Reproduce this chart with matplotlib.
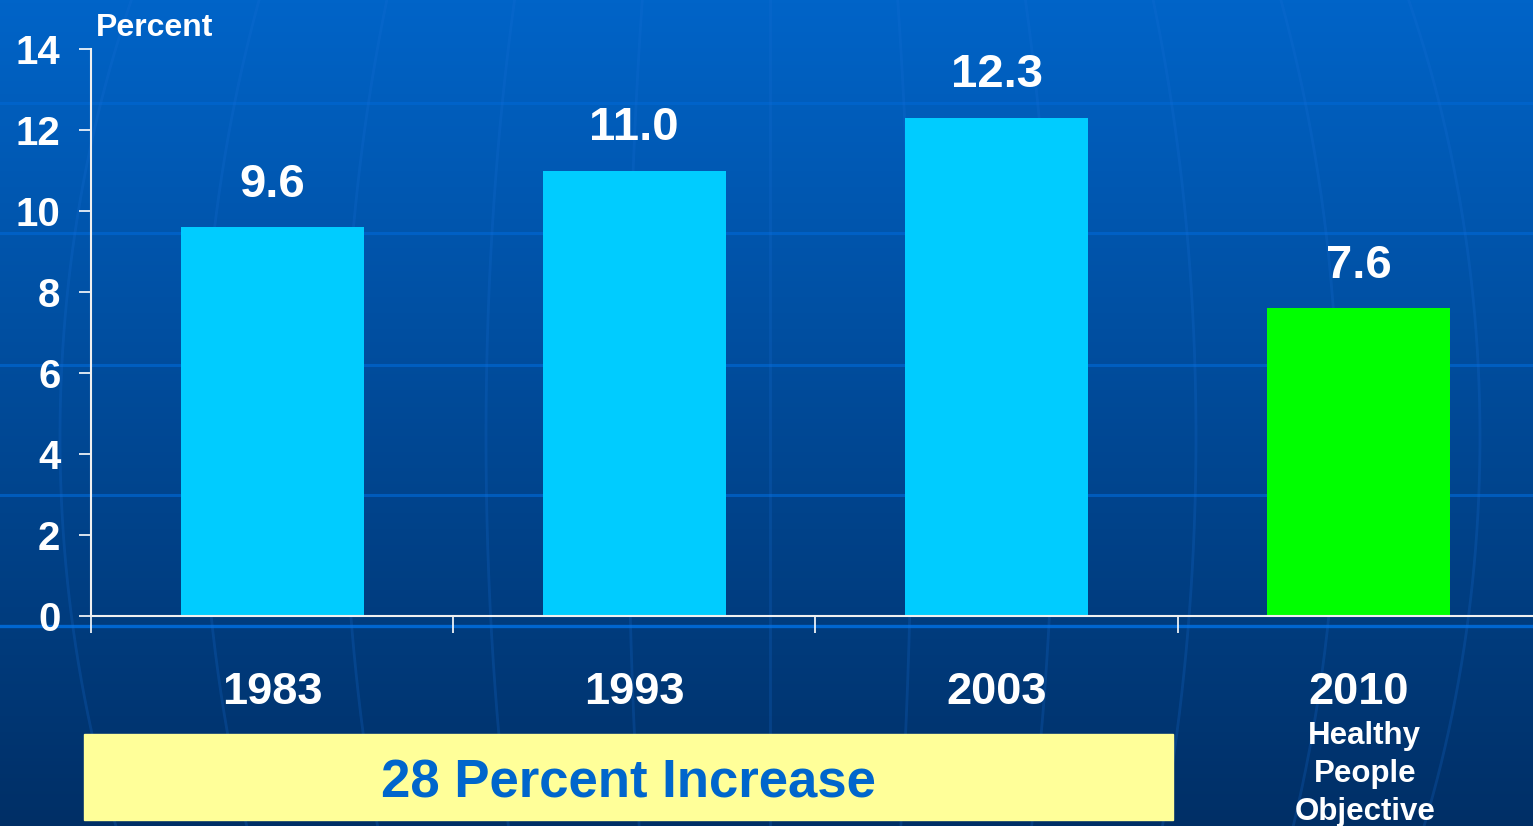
import numpy as np
import matplotlib.pyplot as plt
from matplotlib.patches import Rectangle

plt.rcParams['font.family'] = ['Liberation Sans', 'DejaVu Sans']
plt.rcParams['font.weight'] = 'bold'

# data
years = ['1983', '1993', '2003', '2010']
percent = [9.6, 11.0, 12.3, 7.6]
bar_colors = ['#00ccff', '#00ccff', '#00ccff', '#00ff00']
yticks = [0, 2, 4, 6, 8, 10, 12, 14]
target_note = ['Healthy', 'People', 'Objective']

W, H = 1533, 826
fig = plt.figure(figsize=(W / 100, H / 100), dpi=100)

# slide background: blue gradient with faint globe lines
bg = fig.add_axes([0, 0, 1, 1], zorder=0)
grad = np.linspace(0, 1, 256)[:, None, None]
top = np.array([0, 100, 200]) / 255
bot = np.array([0, 47, 102]) / 255
bg.imshow(top + (bot - top) * grad, aspect='auto', extent=[0, W, H, 0])
for yy in [103, 233, 365, 495]:
    bg.axhline(yy, color='#0066d0', lw=2.2, alpha=0.7)
bg.axhline(626, color='#0066d0', lw=2.4)
ys = np.linspace(0, H, 200)
for xm in 770 + 142 * np.arange(-5, 6):
    xs = 770 + (xm - 770) * np.sqrt(1 - ((ys - 437) / 1000) ** 2)
    bg.plot(xs, ys, color='#1a70d8', lw=2, alpha=0.22)
bg.add_patch(Rectangle((84, 734), 1089, 86, color='#ffff99', zorder=3))
bg.text(628.5, 798, '28 Percent Increase', ha='center', va='baseline',
        fontsize=38, color='#0066cc', zorder=4)
bg.set_xlim(0, W)
bg.set_ylim(H, 0)
bg.axis('off')

# chart
ax = fig.add_axes([91 / W, (H - 616) / H, (W - 91) / W, 567 / H], zorder=1)
ax.patch.set_alpha(0)
x = np.arange(len(years))
ax.bar(x, percent, width=0.505, color=bar_colors)
ax.set_xlim(-0.5, -0.5 + (W - 91) / 362.2)
ax.set_ylim(0, 14)
ax.set_yticks(yticks)
ax.set_xticks(x - 0.5)
ax.set_xticklabels([])
ax.tick_params(axis='y', direction='out', length=9, width=1.2, color='white',
               labelcolor='white', labelsize=29, pad=13)
ax.tick_params(axis='x', direction='out', length=12, width=1.2, color='white')
for s in ['top', 'right']:
    ax.spines[s].set_visible(False)
for s in ['left', 'bottom']:
    ax.spines[s].set_color('#f0f0f0')
    ax.spines[s].set_linewidth(1.5)

for xi, v in zip(x, percent):
    ax.annotate(f'{v:.1f}', (xi, v), xytext=(0, 22), textcoords='offset points',
                ha='center', va='baseline', fontsize=34, color='white')

xt = ax.get_xaxis_transform()
for xi, yr in zip(x, years):
    ax.text(xi, -0.155, yr, transform=xt, ha='center', va='baseline',
            fontsize=32.5, color='white', clip_on=False)
for i, line in enumerate(target_note):
    ax.text(3.017, -0.2257 - 0.067 * i, line, transform=xt, ha='center',
            va='baseline', fontsize=22.5, color='white', clip_on=False)

ax.text(0.0035, 1.023, 'Percent', transform=ax.transAxes, ha='left',
        va='baseline', fontsize=23, color='white')

fig.savefig('out.png', dpi=100)
